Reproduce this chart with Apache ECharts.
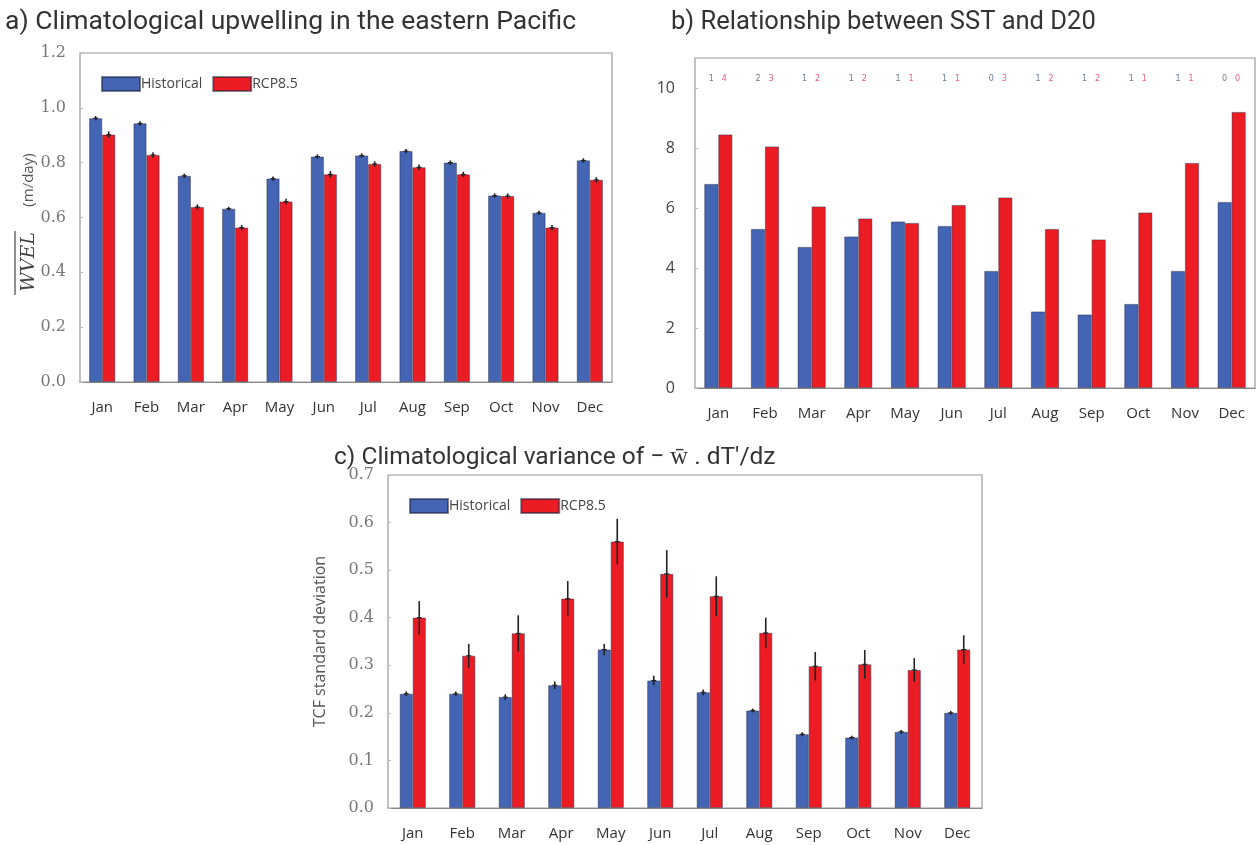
<!DOCTYPE html>
<html>
<head>
<meta charset="utf-8">
<script src="https://cdn.jsdelivr.net/npm/echarts@6/dist/echarts.min.js"></script>
<style>
  html, body { margin: 0; padding: 0; background: #fff; }
  #main { width: 1260px; height: 845px; }
</style>
</head>
<body>
<div id="main"></div>
<script>
// months shared by all three panels
const months = ['Jan', 'Feb', 'Mar', 'Apr', 'May', 'Jun', 'Jul', 'Aug', 'Sep', 'Oct', 'Nov', 'Dec'];

// a) climatological upwelling (m/day)
const aHist = [0.962, 0.943, 0.752, 0.632, 0.742, 0.822, 0.826, 0.842, 0.800, 0.680, 0.617, 0.808];
const aRcp = [0.902, 0.828, 0.638, 0.563, 0.658, 0.757, 0.795, 0.783, 0.757, 0.678, 0.563, 0.737];
const aHistErr = [0.008, 0.008, 0.008, 0.007, 0.008, 0.008, 0.008, 0.008, 0.008, 0.008, 0.008, 0.008];
const aRcpErr = [0.012, 0.010, 0.010, 0.010, 0.010, 0.012, 0.010, 0.010, 0.010, 0.010, 0.010, 0.010];

// b) SST / D20 relationship
const bHist = [6.8, 5.3, 4.7, 5.05, 5.55, 5.4, 3.9, 2.55, 2.45, 2.8, 3.9, 6.2];
const bRcp = [8.45, 8.05, 6.05, 5.65, 5.5, 6.1, 6.35, 5.3, 4.95, 5.85, 7.5, 9.2];
const bHistCount = ['1', '2', '1', '1', '1', '1', '0', '1', '1', '1', '1', '0'];
const bRcpCount = ['4', '3', '2', '2', '1', '1', '3', '2', '2', '1', '1', '0'];

// c) variance of -w.dT'/dz (TCF standard deviation)
const cHist = [0.240, 0.240, 0.233, 0.258, 0.333, 0.268, 0.243, 0.205, 0.155, 0.148, 0.160, 0.200];
const cRcp = [0.400, 0.320, 0.367, 0.440, 0.560, 0.492, 0.445, 0.368, 0.298, 0.302, 0.290, 0.333];
const cHistErr = [0.005, 0.005, 0.006, 0.008, 0.012, 0.010, 0.006, 0.004, 0.004, 0.004, 0.004, 0.004];
const cRcpErr = [0.035, 0.025, 0.038, 0.037, 0.048, 0.050, 0.042, 0.032, 0.030, 0.030, 0.025, 0.030];

const BLUE = '#4464b4';
const RED = '#ec1c24';
const BAR_W = 13;

const chart = echarts.init(document.getElementById('main'));

function barSeries(name, data, color, idx, width) {
    return {
        name: name, type: 'bar', xAxisIndex: idx, yAxisIndex: idx,
        data: data, barWidth: width, barGap: '0%',
        itemStyle: { color: color, borderColor: 'rgba(30,30,60,0.55)', borderWidth: 0.8 },
        emphasis: { disabled: true }, z: 2
    };
}

// error bars drawn with a custom series, shifted onto the bar centre
function errSeries(vals, errs, idx, shift) {
    return {
        type: 'custom', xAxisIndex: idx, yAxisIndex: idx, z: 5, silent: true,
        data: vals.map((v, i) => [i, v, errs[i]]),
        renderItem: function (params, api) {
            const i = api.value(0), v = api.value(1), e = api.value(2);
            const lo = api.coord([i, v - e]);
            const hi = api.coord([i, v + e]);
            const mid = api.coord([i, v]);
            const x = lo[0] + shift;
            return {
                type: 'group',
                children: [
                    { type: 'line', shape: { x1: x, y1: lo[1], x2: x, y2: hi[1] },
                      style: { stroke: '#222', lineWidth: 1.6 } },
                    { type: 'line', shape: { x1: x - 2.5, y1: mid[1], x2: x + 2.5, y2: mid[1] },
                      style: { stroke: '#222', lineWidth: 1.2 } }
                ]
            };
        }
    };
}

function countSeries(labels, color, idx, shift, yPos) {
    return {
        type: 'custom', xAxisIndex: idx, yAxisIndex: idx, z: 5, silent: true,
        data: labels.map((t, i) => [i, yPos]),
        renderItem: function (params, api) {
            const p = api.coord([api.value(0), api.value(1)]);
            return {
                type: 'text',
                style: {
                    x: p[0] + shift, y: p[1], text: labels[params.dataIndex],
                    fill: color, font: '8px "DejaVu Sans"', align: 'center', verticalAlign: 'middle'
                }
            };
        }
    };
}

function xAxisFor(idx) {
    return {
        type: 'category', gridIndex: idx, data: months,
        axisLine: { lineStyle: { color: '#888', width: 1.2 } },
        axisTick: { show: false },
        axisLabel: { color: '#333', fontSize: 15, fontFamily: 'Open Sans', margin: 18 },
        splitLine: { show: false }
    };
}

const serifLabel = { color: '#777', fontSize: 16, fontFamily: 'DejaVu Serif', margin: 14 };
function titleStyle(size) {
    return { color: '#333', fontSize: size, fontWeight: 'normal', fontFamily: 'Roboto' };
}

const option = {
    animation: false,
    backgroundColor: '#fff',
    title: [
        { text: 'a) Climatological upwelling in the eastern Pacific', left: 0, top: 4, textStyle: titleStyle(26.5) },
        { text: 'b) Relationship between SST and D20', left: 666, top: 5, textStyle: titleStyle(25.5) },
        { text: 'c) Climatological variance of \u2212 w\u0304 . dT\u2032/dz', left: 329, top: 440, textStyle: titleStyle(24.5) }
    ],
    legend: [
        { data: ['Historical', 'RCP8.5'], left: 96, top: 71, icon: 'rect', itemWidth: 38, itemHeight: 14,
          itemGap: 10, selectedMode: false,
          textStyle: { color: '#444', fontSize: 14, fontFamily: 'Open Sans', padding: [0, 0, 0, -4] } },
        { data: ['Historical', 'RCP8.5'], left: 404, top: 493, icon: 'rect', itemWidth: 38, itemHeight: 14,
          itemGap: 10, selectedMode: false,
          textStyle: { color: '#444', fontSize: 14, fontFamily: 'Open Sans', padding: [0, 0, 0, -4] } }
    ],
    // panel a y-axis title: overlined italic WVEL plus unit, rotated
    graphic: [
        { type: 'text', x: 29, y: 262, rotation: Math.PI / 2,
          style: { text: 'WVEL', fill: '#444', font: 'italic 19px "DejaVu Serif"', align: 'center', verticalAlign: 'middle' } },
        { type: 'line', shape: { x1: 15, y1: 231, x2: 15, y2: 295 },
          style: { stroke: '#444', lineWidth: 1.2 } },
        { type: 'text', x: 29, y: 180, rotation: Math.PI / 2,
          style: { text: '(m/day)', fill: '#555', font: '15px "Open Sans"', align: 'center', verticalAlign: 'middle' } }
    ],
    grid: [
        { left: 80, top: 53, width: 532, height: 329, show: true, borderColor: '#999', borderWidth: 1.2 },
        { left: 695, top: 58, width: 560, height: 330, show: true, borderColor: '#999', borderWidth: 1.2 },
        { left: 388, top: 475, width: 594, height: 333, show: true, borderColor: '#999', borderWidth: 1.2 }
    ],
    xAxis: [xAxisFor(0), xAxisFor(1), xAxisFor(2)],
    yAxis: [
        {
            type: 'value', gridIndex: 0, min: 0, max: 1.2, interval: 0.2,
            axisLine: { show: false },
            axisTick: { show: true, inside: true, length: 3, lineStyle: { color: '#bbb' } },
            axisLabel: Object.assign({ formatter: v => v.toFixed(1) }, serifLabel),
            splitLine: { show: false }
        },
        {
            type: 'value', gridIndex: 1, min: 0, max: 11, interval: 2,
            axisLine: { show: false },
            axisTick: { show: true, inside: true, length: 3, lineStyle: { color: '#bbb' } },
            axisLabel: { color: '#444', fontSize: 16, fontFamily: 'Open Sans', margin: 20, showMaxLabel: false },
            splitLine: { show: false }
        },
        {
            type: 'value', gridIndex: 2, min: 0, max: 0.7, interval: 0.1,
            name: 'TCF standard deviation', nameLocation: 'middle', nameGap: 60,
            nameTextStyle: { color: '#555', fontSize: 16, fontFamily: 'Open Sans' },
            axisLine: { show: false },
            axisTick: { show: true, inside: true, length: 3, lineStyle: { color: '#bbb' } },
            axisLabel: Object.assign({ formatter: v => v.toFixed(1) }, serifLabel),
            splitLine: { show: false }
        }
    ],
    series: [
        barSeries('Historical', aHist, BLUE, 0, BAR_W),
        barSeries('RCP8.5', aRcp, RED, 0, BAR_W),
        errSeries(aHist, aHistErr, 0, -BAR_W / 2),
        errSeries(aRcp, aRcpErr, 0, BAR_W / 2),

        barSeries('Historical', bHist, BLUE, 1, 14),
        barSeries('RCP8.5', bRcp, RED, 1, 14),
        countSeries(bHistCount, '#6a7896', 1, -7, 10.3),
        countSeries(bRcpCount, '#e8607a', 1, 6, 10.3),

        barSeries('Historical', cHist, BLUE, 2, BAR_W),
        barSeries('RCP8.5', cRcp, RED, 2, BAR_W),
        errSeries(cHist, cHistErr, 2, -BAR_W / 2),
        errSeries(cRcp, cRcpErr, 2, BAR_W / 2)
    ]
};

chart.setOption(option);
</script>
</body>
</html>
